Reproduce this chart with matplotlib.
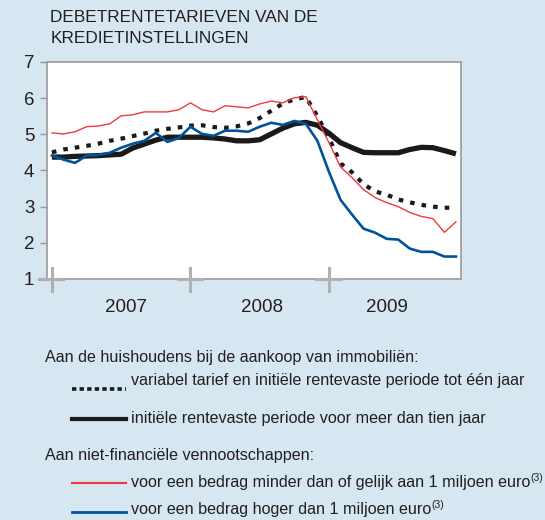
import numpy as np
import matplotlib
matplotlib.use("Agg")
import matplotlib.pyplot as plt
from matplotlib.lines import Line2D

plt.rcParams['font.family'] = ['Liberation Sans', 'DejaVu Sans']

# monthly data, jan 2007 - dec 2009
years = ["2007", "2008", "2009"]
year_label_pos = [6.4, 18.2, 29.0]

variabel = [4.50, 4.58, 4.63, 4.68, 4.74, 4.82, 4.88, 4.95, 5.02, 5.10, 5.15, 5.19,
            5.24, 5.25, 5.20, 5.18, 5.22, 5.30, 5.45, 5.65, 5.85, 5.97, 6.03, 5.50,
            4.90, 4.20, 3.95, 3.62, 3.42, 3.33, 3.20, 3.12, 3.05, 3.00, 2.97, 2.97]
lang = [4.37, 4.37, 4.39, 4.40, 4.41, 4.43, 4.45, 4.62, 4.73, 4.84, 4.92, 4.92,
        4.92, 4.92, 4.90, 4.87, 4.82, 4.82, 4.85, 5.01, 5.17, 5.29, 5.33, 5.25,
        5.03, 4.77, 4.63, 4.50, 4.49, 4.49, 4.49, 4.58, 4.64, 4.63, 4.55, 4.46]
klein = [5.04, 5.01, 5.07, 5.21, 5.23, 5.29, 5.51, 5.54, 5.62, 5.62, 5.62, 5.68,
         5.87, 5.68, 5.62, 5.79, 5.76, 5.73, 5.84, 5.92, 5.87, 6.01, 6.04, 5.40,
         4.77, 4.10, 3.80, 3.47, 3.25, 3.11, 3.00, 2.84, 2.73, 2.67, 2.29, 2.58]
groot = [4.41, 4.30, 4.21, 4.41, 4.43, 4.49, 4.63, 4.74, 4.82, 5.04, 4.79, 4.90,
         5.21, 5.01, 4.96, 5.10, 5.10, 5.07, 5.21, 5.32, 5.26, 5.37, 5.29, 4.82,
         3.96, 3.19, 2.78, 2.39, 2.28, 2.11, 2.09, 1.84, 1.75, 1.75, 1.62, 1.62]

bg = "#d6e7f1"
red = "#ee3a3f"
blue = "#00529b"
txt = "#231f20"
grey = "#9a9a9a"

fig = plt.figure(figsize=(5.45, 5.2), dpi=100, facecolor=bg)
ax = fig.add_axes([0.0862, 0.4635, 0.7597, 0.4173])
ax.set_facecolor("white")

x = np.arange(len(lang))
ax.plot(x, lang, color="#1a1a1a", lw=3.8, solid_capstyle="butt", zorder=3)
ax.plot(x, variabel, color="#1a1a1a", lw=3.0, linestyle=(0, (1.1, 1.7)),
        dash_capstyle="butt", zorder=4)
ax.plot(x, klein, color=red, lw=1.0, zorder=5)
ax.plot(x, groot, color=blue, lw=1.9, zorder=6)

ax.set_xlim(-0.43, 35.44)
ax.set_ylim(1, 7)
ax.set_yticks([1, 2, 3, 4, 5, 6, 7])
ax.tick_params(axis="y", length=5, width=1, color=grey, labelsize=13.5,
               labelcolor=txt, pad=4)
ax.set_xticks([])
for s in ax.spines.values():
    s.set_color(grey)
    s.set_linewidth(1.2)

# year crosses on the x axis
for m in [0, 12, 24]:
    ax.plot([m, m], [0.67, 1.31], color="#b0b0b0", lw=2.2, clip_on=False, zorder=7)
    ax.plot([m - 1.1, m + 1.0], [1, 1], color="#b0b0b0", lw=2.2, clip_on=False, zorder=7)

for lab, pos in zip(years, year_label_pos):
    ax.text(pos, 0.22, lab, ha="center", va="center", fontsize=13.5, color=txt)

fig.text(0.092, 0.98, "DEBETRENTETARIEVEN VAN DE\nKREDIETINSTELLINGEN",
         ha="left", va="top", fontsize=12.4, color=txt, linespacing=1.5)

# legend below the chart
fs = 11.6
tx = 131 / 545
fig.text(45 / 545, 0.3044, "Aan de huishoudens bij de aankoop van immobiliën:",
         fontsize=fs, color=txt, va="baseline")
fig.text(tx, 0.2596, "variabel tarief en initiële rentevaste periode tot één jaar",
         fontsize=fs, color=txt, va="baseline")
fig.text(tx, 0.1865, "initiële rentevaste periode voor meer dan tien jaar",
         fontsize=fs, color=txt, va="baseline")
fig.text(45 / 545, 0.1150, "Aan niet-financiële vennootschappen:",
         fontsize=fs, color=txt, va="baseline")
t1 = fig.text(tx, 0.0630, "voor een bedrag minder dan of gelijk aan 1 miljoen euro",
              fontsize=fs, color=txt, va="baseline")
t2 = fig.text(tx, 0.0110, "voor een bedrag hoger dan 1 miljoen euro",
              fontsize=fs, color=txt, va="baseline")
for t in [t1, t2]:
    fig.add_artist(plt.Annotation("(3)", xy=(1.0, 1.0), xycoords=t,
                                  xytext=(0.3, 1.5), textcoords="offset points",
                                  fontsize=7.5, color=txt, ha="left", va="top"))

x0, x1 = 72 / 545, 126 / 545
fig.add_artist(Line2D([x0, x1], [0.2513, 0.2513], color="#1a1a1a", lw=2.6,
                      linestyle=(0, (1.2, 0.9)), dash_capstyle="butt"))
fig.add_artist(Line2D([x0, x1], [0.1937, 0.1937], color="#1a1a1a", lw=3.0))
fig.add_artist(Line2D([x0, x1], [0.0717, 0.0717], color=red, lw=1.5))
fig.add_artist(Line2D([x0, x1], [0.0160, 0.0160], color=blue, lw=2.0))

fig.savefig("out.png", dpi=100, facecolor=bg)
